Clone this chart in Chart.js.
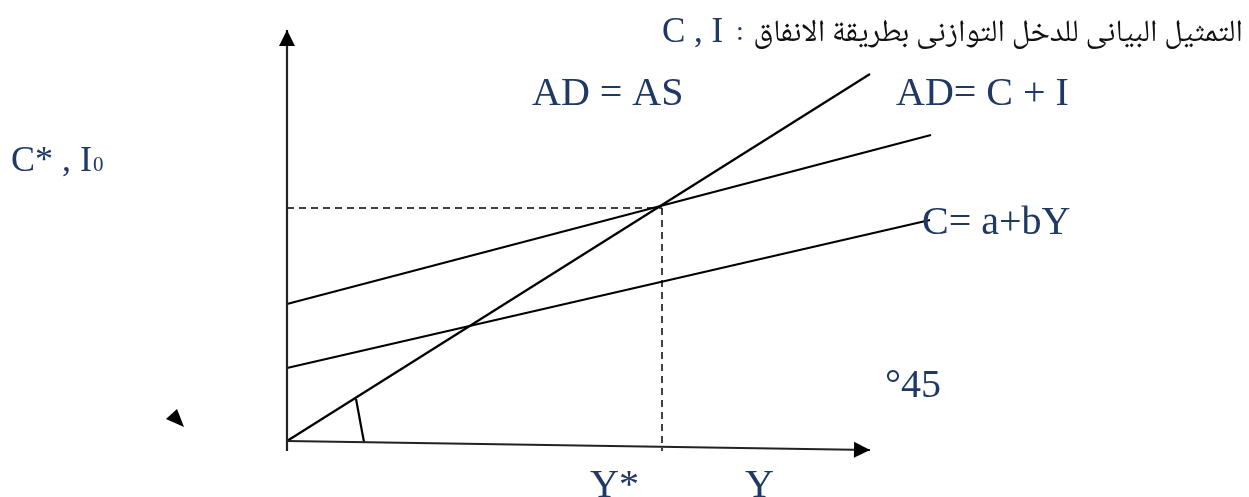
<!DOCTYPE html>
<html><head><meta charset="utf-8">
<script src="https://cdn.jsdelivr.net/npm/chart.js@4"></script>
<style>html,body{margin:0;padding:0;background:#fff;}canvas{display:block;}</style>
</head><body>
<canvas id="c" width="1249" height="497"></canvas>
<script>
// Diagram data (units: income Y horizontally, spending vertically; origin at 0,0)
const yAxisLine = [{x:0,y:-10},{x:0,y:411}];
const xAxisLine = [{x:0,y:0},{x:583,y:-9}];
const line45 = [{x:0,y:0},{x:583,y:367}];           // AD = AS
const lineAD = [{x:0,y:137},{x:644,y:306}];         // AD = C + I
const lineC  = [{x:0,y:73},{x:643,y:221}];          // C = a + bY
const dashH  = [{x:0,y:233},{x:375,y:233}];         // equilibrium level
const dashV  = [{x:375,y:233},{x:375,y:-10}];       // Y*
const angleMark = [{x:69,y:42},{x:77,y:-1}];        // 45° mark
const markerTri = [{x:-121,y:22},{x:-110,y:32},{x:-103,y:14}];

const titleAr = 'التمثيل البيانى للدخل التوازنى بطريقة الانفاق';
const labels = [
  {t:'AD = AS', x:245, y:336},
  {t:'AD= C + I', x:609, y:336},
  {t:'C= a+bY', x:635, y:207},
  {t:'°45', x:598, y:44},
  {t:'Y*', x:303, y:-56},
  {t:'Y', x:458, y:-56}
];
const NAVY = '#1F3864';

const ds = (data, opt={}) => Object.assign({data, showLine:true, borderColor:'#000', borderWidth:2.2, pointRadius:0, fill:false, tension:0}, opt);

const deco = {
  id:'deco',
  afterDatasetsDraw(chart){
    const ctx = chart.ctx, xs = chart.scales.x, ys = chart.scales.y;
    const px = v => xs.getPixelForValue(v), py = v => ys.getPixelForValue(v);
    function arrow(from, to, len, half){
      const x1=px(from.x), y1=py(from.y), x2=px(to.x), y2=py(to.y);
      const a = Math.atan2(y2-y1, x2-x1);
      ctx.save(); ctx.fillStyle='#000'; ctx.beginPath();
      ctx.moveTo(x2,y2);
      ctx.lineTo(x2 - len*Math.cos(a) + half*Math.sin(a), y2 - len*Math.sin(a) - half*Math.cos(a));
      ctx.lineTo(x2 - len*Math.cos(a) - half*Math.sin(a), y2 - len*Math.sin(a) + half*Math.cos(a));
      ctx.closePath(); ctx.fill(); ctx.restore();
    }
    arrow(yAxisLine[0], yAxisLine[1], 16, 8);
    arrow(xAxisLine[0], xAxisLine[1], 16, 8);
    ctx.save(); ctx.fillStyle='#000'; ctx.beginPath();
    markerTri.forEach((p,i)=> i? ctx.lineTo(px(p.x),py(p.y)) : ctx.moveTo(px(p.x),py(p.y)));
    ctx.closePath(); ctx.fill(); ctx.restore();
    ctx.save();
    ctx.fillStyle = NAVY; ctx.textBaseline='alphabetic'; ctx.textAlign='left';
    ctx.font = '40px "Liberation Serif", "Times New Roman", serif';
    for (const l of labels) ctx.fillText(l.t, px(l.x), py(l.y));
    ctx.font = '36px "Liberation Serif", serif';
    const bx = 11, by = 171;
    ctx.fillText('C* , I', bx, by);
    const w = ctx.measureText('C* , I').width;
    ctx.font = '21px "Liberation Serif", serif';
    ctx.fillText('0', bx + w + 1, by);
    ctx.direction = 'rtl'; ctx.textAlign='right'; ctx.fillStyle='#111';
    let fs = 28;
    const fam = '"Noto Naskh Arabic", "DejaVu Serif", "DejaVu Sans", serif';
    ctx.font = fs+'px '+fam;
    const tw = ctx.measureText(titleAr).width;
    fs = Math.max(16, Math.min(36, fs * 490 / tw));
    ctx.font = fs+'px '+fam;
    ctx.fillText(titleAr, 1243, 41);
    ctx.direction='ltr'; ctx.textAlign='left'; ctx.fillStyle=NAVY;
    ctx.font = '35px "Liberation Serif", serif';
    ctx.fillText('C , I', 662, 42);
    ctx.font = '28px "Liberation Serif", serif';
    ctx.fillText(':', 736, 40);
    ctx.restore();
  }
};

new Chart(document.getElementById('c'), {
  type:'scatter',
  data:{datasets:[
    ds(yAxisLine, {borderColor:'#222'}),
    ds(xAxisLine, {borderColor:'#222'}),
    ds(line45), ds(lineAD), ds(lineC),
    ds(dashH, {borderWidth:1.5, borderDash:[7,5]}),
    ds(dashV, {borderWidth:1.5, borderDash:[7,5]}),
    ds(angleMark)
  ]},
  options:{
    responsive:false, animation:false, devicePixelRatio:1,
    layout:{padding:0},
    plugins:{legend:{display:false}, tooltip:{enabled:false}},
    scales:{
      x:{type:'linear', min:-287, max:962, display:false},
      y:{type:'linear', min:-56, max:441, display:false}
    }
  },
  plugins:[deco]
});
</script>
</body></html>
